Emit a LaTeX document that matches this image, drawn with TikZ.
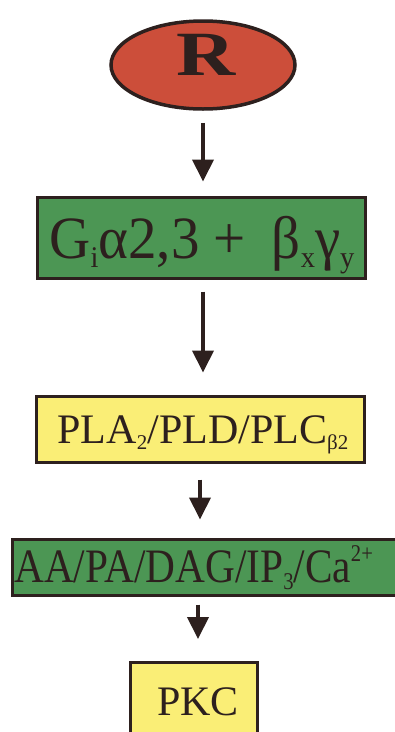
\documentclass[tikz,border=0pt]{standalone}
\usepackage{fontspec}
\setmainfont{Liberation Serif}
\usetikzlibrary{arrows.meta,shapes.geometric}
\definecolor{rred}{RGB}{204,78,58}
\definecolor{bgreen}{RGB}{76,150,84}
\definecolor{byellow}{RGB}{250,238,118}
\definecolor{edge}{RGB}{45,32,30}
\newcommand{\lowsub}[1]{\raisebox{-0.16em}{\scalebox{0.5}{#1}}}
\newcommand{\highsup}[1]{\raisebox{0.42em}{\scalebox{0.5}{#1}}}
\tikzset{
  boxg/.style={draw=edge,line width=3pt,fill=bgreen,inner sep=0pt},
  boxy/.style={draw=edge,line width=3pt,fill=byellow,inner sep=0pt},
  arr/.style={draw=edge,line width=4pt,-{Triangle[width=21pt,length=22pt]}},
  txt/.style={text=edge,inner sep=0pt}
}
\begin{document}
\begin{tikzpicture}[x=1pt,y=-1pt]
\useasboundingbox[fill=white] (0,0) rectangle (395,732);
\node[ellipse,draw=edge,line width=3.5pt,fill=rred,minimum width=184pt,minimum height=88pt,inner sep=0pt] (r) at (203,65) {};
\node[txt,font=\fontsize{63}{63}\selectfont\bfseries,anchor=base] (rt) at (206,75) {\scalebox{1.3}[1]{R}};
\node[boxg,minimum width=328pt,minimum height=81pt] (g) at (201,237.5) {};
\node[txt,font=\fontsize{60}{60}\selectfont,anchor=base] (gt) at (202,258) {\scalebox{0.95}[1]{G\lowsub{i}α2,3 +\hspace{0.2em} β\lowsub{x}γ\lowsub{y}}};
\node[boxy,minimum width=328pt,minimum height=66pt] (pla) at (200,429) {};
\node[txt,font=\fontsize{42}{42}\selectfont,anchor=base] (plat) at (203,443) {PLA\lowsub{2}/PLD/PLC\lowsub{β2}};
\node[boxg,minimum width=398pt,minimum height=56pt] (aa) at (211,567) {};
\node[txt,font=\fontsize{48}{48}\selectfont,anchor=base west] (aat) at (14,582) {\scalebox{0.86}[1]{AA/PA/DAG/IP\lowsub{3}/Ca\highsup{2+}}};
\node[boxy,minimum width=127pt,minimum height=97pt] (pkc) at (193.5,711) {};
\node[txt,font=\fontsize{42}{42}\selectfont,anchor=base] (pkct) at (198,715) {PKC};
\draw[arr,shorten <=12pt,shorten >=14pt] (r.south) -- ([xshift=2pt]g.north);
\draw[arr,shorten <=12pt,shorten >=22pt] ([xshift=2pt]g.south) -- ([xshift=3pt]pla.north);
\draw[arr,shorten <=16pt,shorten >=18pt] (pla.south) -- (pla.south |- aa.north);
\draw[arr,shorten <=8pt,shorten >=22pt] ([xshift=-13pt]aa.south) -- ([xshift=4.5pt]pkc.north);
\end{tikzpicture}
\end{document}
